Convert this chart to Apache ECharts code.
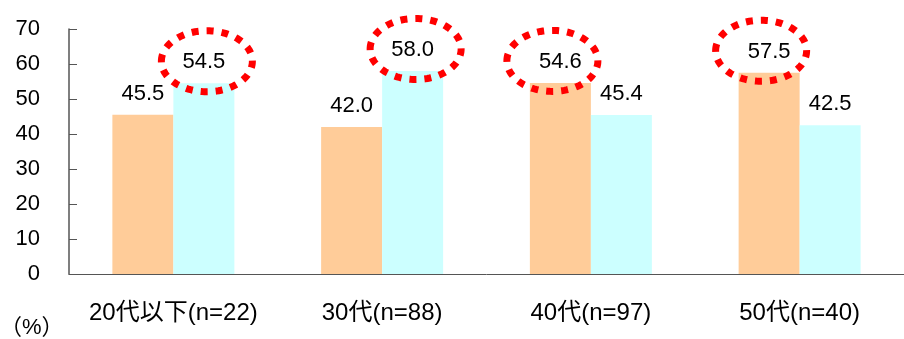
<!DOCTYPE html>
<html>
<head>
<meta charset="utf-8">
<script src="https://cdn.jsdelivr.net/npm/echarts@6/dist/echarts.min.js"></script>
<style>html,body{margin:0;padding:0;background:#fff}#c{width:904px;height:339px}</style>
</head>
<body>
<div id="c"></div>
<script>
const categories = ['20代以下(n=22)', '30代(n=88)', '40代(n=97)', '50代(n=40)'];
const seriesA = [45.5, 42.0, 54.6, 57.5];
const seriesB = [54.5, 58.0, 45.4, 42.5];
const circled = [[0, 1], [1, 1], [2, 0], [3, 0]];
const yTicks = [0, 10, 20, 30, 40, 50, 60, 70];
const unitLabel = '（%）';

const FONT = '"Liberation Sans", Arial, "Noto Sans CJK JP", sans-serif';
const BAR_W = 61;

const chart = echarts.init(document.getElementById('c'), null, {renderer: 'canvas'});

const labelCfg = {
  show: true, position: 'top', distance: 10,
  fontSize: 22, color: '#000', fontFamily: FONT,
  formatter: p => p.value.toFixed(1)
};

chart.setOption({
  animation: false,
  backgroundColor: '#fff',
  grid: {left: 69, top: 29, height: 245, width: 838, containLabel: false},
  xAxis: {
    type: 'category', data: categories,
    axisLine: {lineStyle: {color: '#555', width: 1}},
    axisTick: {inside: true, length: 7, lineStyle: {color: '#555'}},
    axisLabel: {interval: 0, hideOverlap: false, fontSize: 24, color: '#000', fontFamily: FONT, margin: 27}
  },
  yAxis: {
    type: 'value', min: yTicks[0], max: yTicks[yTicks.length - 1], interval: 10,
    splitLine: {show: false},
    axisLine: {show: true, lineStyle: {color: '#555', width: 1.5}},
    axisTick: {show: true, inside: true, length: 8, lineStyle: {color: '#555'}},
    axisLabel: {fontSize: 22, color: '#000', fontFamily: FONT, margin: 29}
  },
  graphic: [{
    type: 'text', left: 0, top: 317,
    style: {text: unitLabel, fill: '#000', font: '22px ' + FONT}
  }],
  series: [
    {type: 'bar', data: seriesA, barWidth: BAR_W, barGap: '0%',
     itemStyle: {color: '#FFCC99'}, label: labelCfg},
    {type: 'bar', data: seriesB, barWidth: BAR_W, barGap: '0%',
     itemStyle: {color: '#CCFFFF'}, label: labelCfg},
    {type: 'custom', data: circled, encode: {x: 0, y: 1}, clip: false, z: 10,
     renderItem: function (params, api) {
       const cat = api.value(0), s = api.value(1);
       const val = (s === 0 ? seriesA : seriesB)[cat];
       const p = api.coord([cat, val]);
       const cx = p[0] + (s === 0 ? -BAR_W / 2 - 8 : BAR_W / 2 + 3);
       const cy = p[1] - 22;
       const rx = 45.5, ry = 30.5, pts = [];
       for (let i = 0; i < 120; i++) {
         const a = Math.PI + i / 120 * Math.PI * 2;
         pts.push([cx + rx * Math.cos(a), cy + ry * Math.sin(a)]);
       }
       return {
         type: 'polygon', shape: {points: pts},
         style: {fill: null, stroke: '#FF0000', lineWidth: 7, lineDash: [7, 8], lineCap: 'butt'}
       };
     }}
  ]
});
</script>
</body>
</html>
